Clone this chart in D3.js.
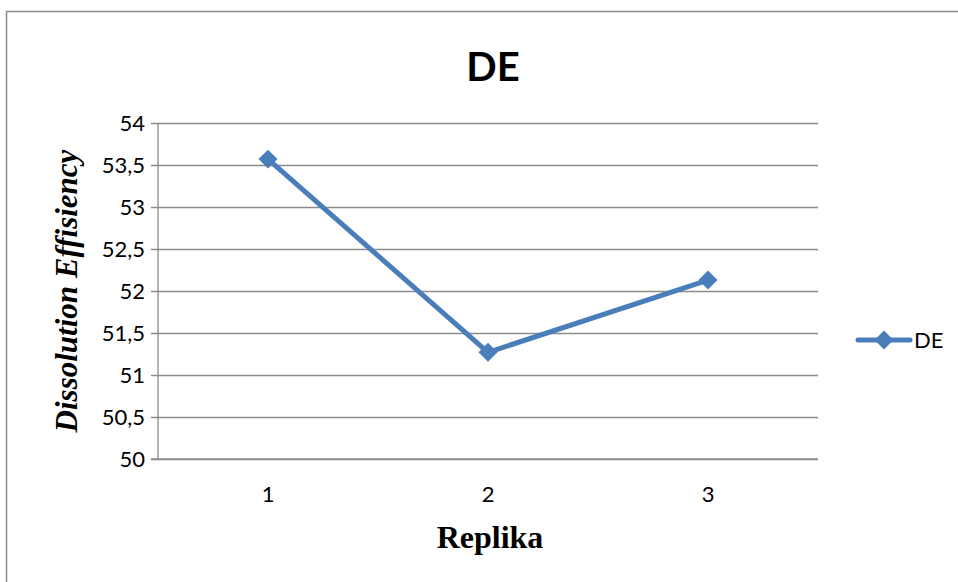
<!DOCTYPE html>
<html>
<head>
<meta charset="utf-8">
<script src="https://cdn.jsdelivr.net/npm/d3@7"></script>
<style>
  body { margin: 0; background: #fff; }
  svg { display: block; }
</style>
</head>
<body>
<div id="chart"></div>
<script>
// data
const categories = ["1", "2", "3"];
const deValues = [53.57, 51.27, 52.13];
const yTicks = [50, 50.5, 51, 51.5, 52, 52.5, 53, 53.5, 54];

const width = 958, height = 582;
const plot = { left: 158, right: 818, top: 123, bottom: 459 };
const blue = "#4a7ebb";

const svg = d3.select("#chart").append("svg")
  .attr("width", width)
  .attr("height", height);

// chart frame
svg.append("rect")
  .attr("x", 6.5).attr("y", 11.5)
  .attr("width", 1000).attr("height", 700)
  .attr("fill", "none")
  .attr("stroke", "#8c8c8c")
  .attr("stroke-width", 1.5);

const x = d3.scaleBand()
  .domain(categories)
  .range([plot.left, plot.right]);

const y = d3.scaleLinear()
  .domain([50, 54])
  .range([plot.bottom, plot.top]);

// gridlines + y labels
const yAxis = d3.axisLeft(y)
  .tickValues(yTicks)
  .tickSize(-(plot.right - plot.left))
  .tickPadding(13)
  .tickFormat(d => d3.format(".1~f")(d).replace(".", ","));

const gy = svg.append("g")
  .attr("transform", `translate(${plot.left},0)`)
  .call(yAxis);
gy.select(".domain").remove();
gy.selectAll(".tick line")
  .attr("x1", -7)
  .attr("stroke", "#8c8c8c")
  .attr("stroke-width", 1.3);
gy.selectAll(".tick text")
  .attr("font-family", "Lato, 'Open Sans', sans-serif")
  .attr("font-size", 22)
  .attr("fill", "#000");

// axis lines
svg.append("line")
  .attr("x1", plot.left).attr("x2", plot.left)
  .attr("y1", plot.top).attr("y2", plot.bottom)
  .attr("stroke", "#8c8c8c").attr("stroke-width", 1.3);
svg.append("line")
  .attr("x1", plot.left - 7).attr("x2", plot.right)
  .attr("y1", plot.bottom).attr("y2", plot.bottom)
  .attr("stroke", "#8c8c8c").attr("stroke-width", 1.5);

// x labels
const gx = svg.append("g")
  .attr("transform", `translate(0,${plot.bottom})`)
  .call(d3.axisBottom(x).tickSize(0).tickPadding(27));
gx.select(".domain").remove();
gx.selectAll(".tick text")
  .attr("font-family", "Lato, 'Open Sans', sans-serif")
  .attr("font-size", 22)
  .attr("fill", "#000");

// series line
const line = d3.line()
  .x((d, i) => x(categories[i]) + x.bandwidth() / 2)
  .y(d => y(d));

svg.append("path")
  .datum(deValues)
  .attr("d", line)
  .attr("fill", "none")
  .attr("stroke", blue)
  .attr("stroke-width", 5)
  .attr("stroke-linejoin", "round");

const diamond = d3.symbol().type(d3.symbolSquare).size(180);
svg.selectAll(".marker")
  .data(deValues)
  .join("path")
    .attr("class", "marker")
    .attr("d", diamond)
    .attr("fill", blue)
    .attr("transform", (d, i) =>
      `translate(${x(categories[i]) + x.bandwidth() / 2},${y(d)}) rotate(45)`);

// title
svg.append("text")
  .attr("x", 493).attr("y", 81)
  .attr("text-anchor", "middle")
  .attr("font-family", "Lato, 'Open Sans', sans-serif")
  .attr("font-weight", "bold")
  .attr("font-size", 40)
  .text("DE");

// axis titles
svg.append("text")
  .attr("x", 490).attr("y", 548)
  .attr("text-anchor", "middle")
  .attr("font-family", "'Liberation Serif', 'DejaVu Serif', serif")
  .attr("font-weight", "bold")
  .attr("font-size", 32)
  .text("Replika");

svg.append("text")
  .attr("transform", `translate(77,${(plot.top + plot.bottom) / 2}) rotate(-90)`)
  .attr("text-anchor", "middle")
  .attr("font-family", "'Liberation Serif', 'DejaVu Serif', serif")
  .attr("font-weight", "bold")
  .attr("font-style", "italic")
  .attr("font-size", 31)
  .text("Dissolution  Effisiency");

// legend
const lg = svg.append("g").attr("transform", "translate(858,340)");
lg.append("line")
  .attr("x1", 0).attr("x2", 52)
  .attr("stroke", blue).attr("stroke-width", 5)
  .attr("stroke-linecap", "round");
lg.append("path")
  .attr("d", diamond)
  .attr("fill", blue)
  .attr("transform", "translate(26,0) rotate(45)");
lg.append("text")
  .attr("x", 56).attr("y", 0)
  .attr("dy", "0.35em")
  .attr("font-family", "Lato, 'Open Sans', sans-serif")
  .attr("font-size", 22)
  .text("DE");
</script>
</body>
</html>
